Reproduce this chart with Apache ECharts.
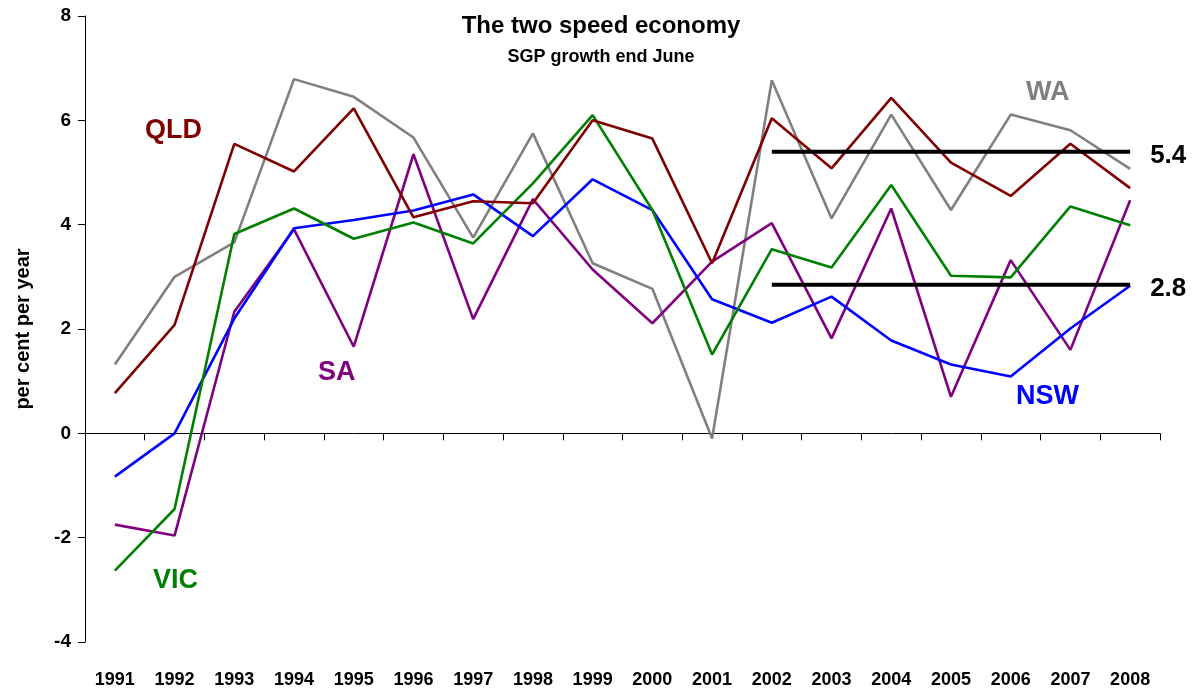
<!DOCTYPE html>
<html><head><meta charset="utf-8">
<script src="https://cdn.jsdelivr.net/npm/echarts@6/dist/echarts.min.js"></script>
<style>html,body{margin:0;padding:0;background:#fff}#c{width:1202px;height:693px}</style>
</head><body><div id="c"></div>
<script>
const years = ['1991','1992','1993','1994','1995','1996','1997','1998','1999','2000','2001','2002','2003','2004','2005','2006','2007','2008'];
const qld = [0.77,2.08,5.55,5.02,6.23,4.14,4.45,4.41,6.0,5.65,3.26,6.04,5.08,6.43,5.19,4.55,5.55,4.70];
const wa  = [1.32,3.0,3.66,6.79,6.45,5.67,3.75,5.75,3.26,2.77,-0.1,6.77,4.12,6.11,4.28,6.11,5.81,5.07];
const vic = [-2.63,-1.45,3.82,4.31,3.73,4.04,3.64,4.79,6.10,4.28,1.51,3.53,3.18,4.76,3.02,2.99,4.35,3.99];
const nsw = [-0.83,0.0,2.20,3.93,4.09,4.27,4.58,3.78,4.87,4.28,2.57,2.12,2.62,1.78,1.32,1.09,2.01,2.83];
const sa  = [-1.75,-1.96,2.33,3.91,1.66,5.35,2.19,4.49,3.14,2.11,3.29,4.03,1.82,4.31,0.70,3.32,1.60,4.47];
const avgHigh = [null,null,null,null,null,null,null,null,null,null,null,5.4,5.4,5.4,5.4,5.4,5.4,5.4];
const avgLow  = [null,null,null,null,null,null,null,null,null,null,null,2.85,2.85,2.85,2.85,2.85,2.85,2.85];
const avgLabels = ['5.4','2.8'];
const yTicks = [-4,-2,0,2,4,6,8];

const chart = echarts.init(document.getElementById('c'));
const F = 'Liberation Sans, Arial, sans-serif';
function line(name, data, color, w){
  return {name, type:'line', data, xAxisIndex:0, symbol:'none', lineStyle:{color, width:w||2.6}, itemStyle:{color}, animation:false, z:2};
}
const avgSeries = (data, lab) => ({
  type:'line', data, symbol:'none', xAxisIndex:0, animation:false, z:3,
  lineStyle:{color:'#000', width:4},
  endLabel:{show:true, formatter:lab, color:'#000', fontFamily:F, fontWeight:'bold', fontSize:26, distance:20, offset:[0,4]}
});
chart.setOption({
  backgroundColor:'#fff',
  animation:false,
  title:{text:'The two speed economy', subtext:'SGP growth end June', left:'center', top:9, itemGap:10,
    textStyle:{fontFamily:F, fontWeight:'bold', fontSize:24, color:'#000'},
    subtextStyle:{fontFamily:F, fontWeight:'bold', fontSize:18, color:'#000'}},
  grid:{left:85, right:42, top:16, bottom:51, containLabel:false},
  xAxis:[
    {type:'category', data:years, position:'top', boundaryGap:true,
     axisLine:{onZero:true, lineStyle:{color:'#000', width:1}},
     axisTick:{show:true, inside:true, length:7, lineStyle:{color:'#000'}},
     axisLabel:{show:false}, splitLine:{show:false}},
    {type:'category', data:years, position:'bottom', boundaryGap:true,
     axisLine:{show:false, onZero:false}, axisTick:{show:false},
     axisLabel:{margin:29, fontFamily:F, fontWeight:'bold', fontSize:18, color:'#000'}, splitLine:{show:false}}
  ],
  yAxis:{type:'value', min:yTicks[0], max:yTicks[yTicks.length-1], interval:2,
    name:'per cent per year', nameLocation:'middle', nameGap:52,
    nameTextStyle:{fontFamily:F, fontWeight:'bold', fontSize:20, color:'#000'},
    axisLine:{show:true, lineStyle:{color:'#000', width:1}},
    axisTick:{show:true, length:7, lineStyle:{color:'#000'}},
    axisLabel:{fontFamily:F, fontWeight:'bold', fontSize:19, color:'#000', margin:14},
    splitLine:{show:false}},
  series:[
    line('WA', wa, '#808080'),
    line('SA', sa, '#800080'),
    line('NSW', nsw, '#0000FF'),
    line('VIC', vic, '#008000'),
    line('QLD', qld, '#800000'),
    avgSeries(avgHigh, avgLabels[0]),
    avgSeries(avgLow, avgLabels[1])
  ],
  graphic:[
    {type:'text', left:145, top:117, style:{text:'QLD', fill:'#800000', font:'bold 27px '+F}},
    {type:'text', left:318, top:359, style:{text:'SA', fill:'#800080', font:'bold 27px '+F}},
    {type:'text', left:153, top:567, style:{text:'VIC', fill:'#008000', font:'bold 27px '+F}},
    {type:'text', left:1016, top:383, style:{text:'NSW', fill:'#0000FF', font:'bold 27px '+F}},
    {type:'text', left:1026, top:79, style:{text:'WA', fill:'#808080', font:'bold 27px '+F}}
  ]
});
</script></body></html>
